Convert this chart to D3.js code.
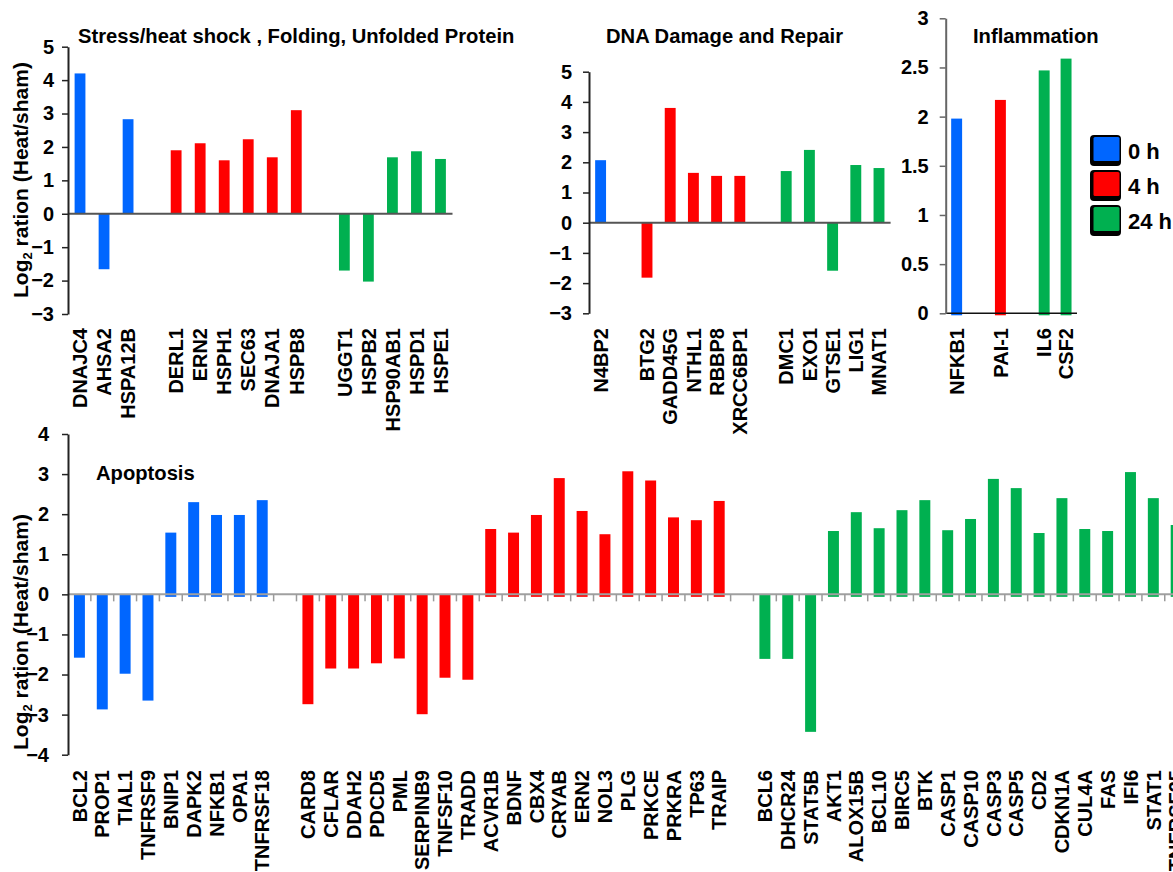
<!DOCTYPE html>
<html>
<head>
<meta charset="utf-8">
<script src="https://cdn.jsdelivr.net/npm/d3@7/dist/d3.min.js"></script>
<style>
  html, body { margin: 0; padding: 0; background: #fff; }
  svg { display: block; }
  text { font-family: "Liberation Sans", Arial, sans-serif; font-weight: bold; fill: #000; }
</style>
</head>
<body>
<svg id="chart" width="1173" height="872"></svg>
<script>
// ---- Time points (legend) ----
const timeLabels = ["0 h", "4 h", "24 h"];
const timeColors = ["#0066FF", "#FF0000", "#00B050"];

// ---- Stress/heat shock, Folding, Unfolded Protein ----
const stressGenes0h  = ["DNAJC4", "AHSA2", "HSPA12B"];
const stressValues0h = [4.2, -1.66, 2.83];
const stressGenes4h  = ["DERL1", "ERN2", "HSPH1", "SEC63", "DNAJA1", "HSPB8"];
const stressValues4h = [1.9, 2.11, 1.6, 2.23, 1.69, 3.1];
const stressGenes24h  = ["UGGT1", "HSPB2", "HSP90AB1", "HSPD1", "HSPE1"];
const stressValues24h = [-1.7, -2.03, 1.69, 1.87, 1.64];
const stressTicks = [-3, -2, -1, 0, 1, 2, 3, 4, 5];

// ---- DNA Damage and Repair ----
const dnaGenes0h  = ["N4BP2"];
const dnaValues0h = [2.07];
const dnaGenes4h  = ["BTG2", "GADD45G", "NTHL1", "RBBP8", "XRCC6BP1"];
const dnaValues4h = [-1.82, 3.8, 1.65, 1.55, 1.55];
const dnaGenes24h  = ["DMC1", "EXO1", "GTSE1", "LIG1", "MNAT1"];
const dnaValues24h = [1.71, 2.41, -1.59, 1.91, 1.81];
const dnaTicks = [-3, -2, -1, 0, 1, 2, 3, 4, 5];

// ---- Inflammation ----
const inflGenes0h  = ["NFKB1"];
const inflValues0h = [1.98];
const inflGenes4h  = ["PAI-1"];
const inflValues4h = [2.17];
const inflGenes24h  = ["IL6", "CSF2"];
const inflValues24h = [2.47, 2.59];
const inflTicks = [0, 0.5, 1, 1.5, 2, 2.5, 3];

// ---- Apoptosis ----
const apopGenes0h  = ["BCL2", "PROP1", "TIAL1", "TNFRSF9", "BNIP1", "DAPK2", "NFKB1", "OPA1", "TNFRSF18"];
const apopValues0h = [-1.58, -2.87, -1.98, -2.65, 1.54, 2.30, 1.98, 1.98, 2.35];
const apopGenes4h  = ["CARD8", "CFLAR", "DDAH2", "PDCD5", "PML", "SERPINB9", "TNFSF10", "TRADD",
                      "ACVR1B", "BDNF", "CBX4", "CRYAB", "ERN2", "NOL3", "PLG", "PRKCE", "PRKRA", "TP63", "TRAIP"];
const apopValues4h = [-2.74, -1.85, -1.85, -1.72, -1.60, -2.99, -2.08, -2.13,
                      1.63, 1.54, 1.98, 2.90, 2.08, 1.50, 3.07, 2.84, 1.92, 1.85, 2.33];
const apopGenes24h  = ["BCL6", "DHCR24", "STAT5B", "AKT1", "ALOX15B", "BCL10", "BIRC5", "BTK", "CASP1", "CASP10",
                       "CASP3", "CASP5", "CD2", "CDKN1A", "CUL4A", "FAS", "IFI6", "STAT1", "TNFRSF25"];
const apopValues24h = [-1.61, -1.61, -3.43, 1.58, 2.05, 1.65, 2.10, 2.35, 1.60, 1.88,
                       2.88, 2.65, 1.53, 2.40, 1.63, 1.58, 3.05, 2.40, 1.73];
const apopTicks = [-4, -3, -2, -1, 0, 1, 2, 3, 4];

const svg = d3.select("#chart");

// Build the slot list: the three time groups separated by one empty slot each.
function buildSlots(groups) {
  const slots = [];
  groups.forEach((g, gi) => {
    if (gi > 0) slots.push({ key: "gap" + gi, gap: true });
    g.genes.forEach((name, i) => slots.push({ key: gi + ":" + name, name, value: g.values[i], time: gi }));
  });
  return slots;
}

function drawPanel(cfg) {
  const slots = buildSlots(cfg.groups);
  const x = d3.scaleBand().domain(slots.map(d => d.key)).range(cfg.xRange).padding(0);
  const y = d3.scaleLinear().domain(cfg.yDomain).range(cfg.yRange);
  const g = svg.append("g");
  const bw = x.bandwidth() * cfg.barRatio;
  const y0 = y(0);
  const bars = slots.filter(d => !d.gap);

  // bars
  g.selectAll("rect.bar").data(bars).join("rect")
    .attr("class", "bar")
    .attr("x", d => x(d.key) + (x.bandwidth() - bw) / 2)
    .attr("width", bw)
    .attr("y", d => d.value >= 0 ? y(d.value) : y0)
    .attr("height", d => d.value >= 0 ? (y0 - y(d.value)) + cfg.overhang : (y(d.value) - y0))
    .attr("fill", d => timeColors[d.time]);

  // zero line
  g.append("line")
    .attr("x1", cfg.xRange[0]).attr("x2", cfg.zeroEnd || cfg.xRange[1])
    .attr("y1", y0).attr("y2", y0)
    .attr("stroke", cfg.zeroColor).attr("stroke-width", cfg.zeroWidth);

  // category tick marks hanging below the zero line
  if (cfg.catTicks) {
    const edges = d3.range(slots.length + 1).map(i => cfg.xRange[0] + i * x.step());
    g.selectAll("line.ct").data(edges.slice(1)).join("line")
      .attr("class", "ct")
      .attr("x1", d => d).attr("x2", d => d)
      .attr("y1", y0).attr("y2", y0 + 7)
      .attr("stroke", "#9a9a9a").attr("stroke-width", 1.5);
  }

  // y axis
  const axis = d3.axisLeft(y).tickValues(cfg.ticks).tickSize(6).tickSizeOuter(0)
    .tickPadding(cfg.tickPad).tickFormat(d3.format("~g"));
  const ag = g.append("g").attr("transform", `translate(${cfg.xRange[0]},0)`).call(axis);
  ag.select(".domain").attr("stroke", cfg.axisColor).attr("stroke-width", 2);
  ag.selectAll(".tick line").attr("stroke", cfg.axisColor).attr("stroke-width", 1.5);
  ag.selectAll(".tick text")
    .style("font-family", "'Liberation Sans', Arial, sans-serif")
    .style("font-weight", "bold")
    .style("font-size", "20px")
    .attr("fill", "#000");

  // gene labels, rotated
  g.selectAll("text.gene").data(bars).join("text")
    .attr("class", "gene")
    .attr("transform", d => `translate(${x(d.key) + x.bandwidth() / 2},${cfg.labelTop}) rotate(-90)`)
    .attr("text-anchor", "end")
    .attr("dy", "0.36em")
    .style("font-size", "20px")
    .text(d => d.name);

  // panel title
  if (cfg.title) {
    g.append("text")
      .attr("x", cfg.title.x).attr("y", cfg.title.y)
      .style("font-size", "20.2px")
      .text(cfg.title.text);
  }
  return { x, y };
}

function yLabel(cx, cy) {
  const t = svg.append("text")
    .attr("transform", `translate(${cx},${cy}) rotate(-90)`)
    .attr("text-anchor", "middle")
    .attr("dy", "0.36em")
    .style("font-size", "21px");
  t.append("tspan").text("Log");
  t.append("tspan").attr("dy", "4").style("font-size", "13px").text("2");
  t.append("tspan").attr("dy", "-4").text(" ration (Heat/sham)");
}

// Stress panel
drawPanel({
  groups: [
    { genes: stressGenes0h, values: stressValues0h },
    { genes: stressGenes4h, values: stressValues4h },
    { genes: stressGenes24h, values: stressValues24h }
  ],
  xRange: [68, 452.5], yDomain: [-3, 5], yRange: [314, 46.7],
  barRatio: 0.45, overhang: 0, ticks: stressTicks, tickPad: 8,
  axisColor: "#222", zeroColor: "#555", zeroWidth: 2,
  labelTop: 328,
  title: { x: 78, y: 43, text: "Stress/heat shock , Folding, Unfolded Protein" }
});

// DNA panel
drawPanel({
  groups: [
    { genes: dnaGenes0h, values: dnaValues0h },
    { genes: dnaGenes4h, values: dnaValues4h },
    { genes: dnaGenes24h, values: dnaValues24h }
  ],
  xRange: [589, 890.6], yDomain: [-3, 5], yRange: [313.3, 71.7],
  barRatio: 0.47, overhang: 0, ticks: dnaTicks, tickPad: 11,
  axisColor: "#222", zeroColor: "#555", zeroWidth: 2,
  labelTop: 328,
  title: { x: 606, y: 43, text: "DNA Damage and Repair" }
});

// Inflammation panel
drawPanel({
  groups: [
    { genes: inflGenes0h, values: inflValues0h },
    { genes: inflGenes4h, values: inflValues4h },
    { genes: inflGenes24h, values: inflValues24h }
  ],
  xRange: [945.7, 1077], yDomain: [0, 3], yRange: [313.3, 18.3],
  barRatio: 0.5, overhang: 2, ticks: inflTicks, tickPad: 11,
  axisColor: "#666", zeroColor: "#111", zeroWidth: 1.5,
  labelTop: 328,
  title: { x: 973, y: 43, text: "Inflammation" }
});

// Apoptosis panel
drawPanel({
  groups: [
    { genes: apopGenes0h, values: apopValues0h },
    { genes: apopGenes4h, values: apopValues4h },
    { genes: apopGenes24h, values: apopValues24h }
  ],
  xRange: [68, 1187.6], yDomain: [-4, 4], yRange: [754.7, 434],
  barRatio: 0.48, overhang: 2.5, ticks: apopTicks, tickPad: 13,
  axisColor: "#222", zeroColor: "#a0a0a0", zeroWidth: 2,
  catTicks: true, zeroEnd: 1173,
  labelTop: 770,
  title: { x: 96, y: 480, text: "Apoptosis" }
});

yLabel(20, 180);
yLabel(20, 632);

// Legend: bevelled colour keys
const legend = svg.append("g").attr("transform", "translate(1090,135)");
const rowY = [0, 35, 70];
timeLabels.forEach((lab, i) => {
  const r = legend.append("g").attr("transform", `translate(0,${rowY[i]})`);
  r.append("rect").attr("x", 0).attr("y", 0).attr("width", 31).attr("height", 31)
    .attr("rx", 4).attr("fill", "#000");
  r.append("rect").attr("x", 3.5).attr("y", 2).attr("width", 26).attr("height", 24)
    .attr("rx", 1.5).attr("fill", timeColors[i]);
  r.append("text").attr("x", 38).attr("y", 24).style("font-size", "22px").text(lab);
});
</script>
</body>
</html>
